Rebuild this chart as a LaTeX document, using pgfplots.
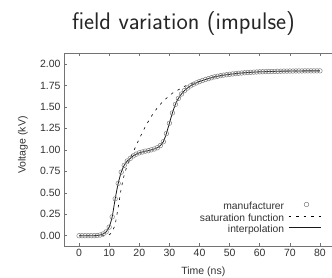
\documentclass[border=0pt]{standalone}
\usepackage{fontspec}
\setmainfont{Liberation Sans}
\usepackage{pgfplots}
\pgfplotsset{compat=1.18}
\usepackage{pgfplotstable}

\pgfplotsset{
  markimg/.style={legend image code/.code={\path (0pt,0pt) (32pt,0pt); \draw[##1] plot coordinates {(18pt,2.5pt)};}},
  dashimg/.style={legend image code/.code={\draw[##1] (0pt,2.5pt) -- (33pt,2.5pt);}},
  lineimg/.style={legend image code/.code={\draw[##1] (0pt,2.5pt) -- (32pt,2.5pt);}},
}

\pgfplotstableread{
t v
0 0
1 0
2 0
3 0
4 0
5 0
6 0.002
7 0.008
8 0.02
9 0.045
10 0.1
11 0.22
12 0.43
13 0.61
14 0.74
15 0.82
16 0.87
17 0.90
18 0.93
19 0.95
20 0.965
21 0.975
22 0.985
23 0.99
24 1.00
25 1.01
26 1.025
27 1.05
28 1.095
29 1.19
30 1.31
31 1.43
32 1.53
33 1.60
34 1.65
35 1.69
36 1.72
37 1.745
38 1.765
39 1.78
40 1.795
41 1.808
42 1.82
43 1.83
44 1.84
45 1.85
46 1.857
47 1.864
48 1.87
49 1.875
50 1.88
51 1.884
52 1.888
53 1.892
54 1.895
55 1.898
56 1.901
57 1.903
58 1.905
59 1.907
60 1.909
61 1.910
62 1.911
63 1.912
64 1.913
65 1.914
66 1.915
67 1.916
68 1.917
69 1.917
70 1.918
71 1.918
72 1.919
73 1.919
74 1.919
75 1.920
76 1.920
77 1.920
78 1.920
79 1.920
80 1.920
}\manuf

\pgfplotstableread{
t v
0 0
9 0
10 0.01
11 0.04
12 0.13
13 0.33
14 0.55
15 0.71
16 0.82
17 0.90
18 0.98
19 1.05
20 1.13
21 1.20
22 1.27
23 1.33
24 1.39
25 1.44
26 1.49
27 1.53
28 1.57
29 1.60
30 1.63
31 1.66
32 1.68
33 1.70
34 1.72
35 1.74
36 1.755
37 1.77
38 1.78
39 1.79
40 1.80
42 1.82
45 1.85
50 1.88
55 1.898
60 1.909
70 1.918
80 1.920
}\satur

\begin{document}
\begin{tikzpicture}[x=1pt,y=1pt]
\useasboundingbox (0,0) rectangle (332,277);
\node[font=\sffamily\fontsize{24}{28}\selectfont, anchor=base, text=black!85] at (183.5,248) {field variation (impulse)};
\begin{axis}[
  at={(64pt,31pt)}, anchor=south west,
  scale only axis, width=268pt, height=193pt,
  xmin=-5, xmax=84, ymin=-0.12, ymax=2.128,
  axis x line*=box, axis y line*=left,
  x axis line style={-}, y axis line style={-},
  axis line style={black!55, line width=0.6pt},
  tick style={black!55, line width=0.5pt},
  tick align=inside, major tick length=3pt,
  xtick={0,10,...,80},
  ytick={0,0.25,...,2.0},
  /pgf/number format/assume math mode=true,
  ticklabel style={font=\fontsize{10.5}{12}\selectfont, text=black!80},
  yticklabel style={/pgf/number format/.cd, fixed, fixed zerofill, precision=2},
  xlabel={Time (ns)}, ylabel={Voltage (kV)},
  label style={font=\fontsize{10.5}{12}\selectfont, text=black!80},
  xlabel style={at={(axis description cs:0.52,-0.150)}, anchor=base},
  ylabel style={at={(axis description cs:-0.153,0.523)}, anchor=center},
  legend cell align=right,
  legend plot pos=right,
  legend style={draw=none, fill=none, inner sep=0pt, at={(0.9627,0.233)}, anchor=north east,
    font=\fontsize{10.3}{11}\selectfont, text=black!80, column sep=3pt,
    nodes={inner sep=1pt, text height=7.5pt, text depth=2pt}},
]
\addplot[only marks, mark=o, mark size=2.3pt, color=black!50, mark options={line width=0.5pt}, markimg]
  table {\manuf};
\addlegendentry{manufacturer}
\addplot[black, line width=0.6pt, dash pattern=on 2.5pt off 5pt, dashimg]
  table {\satur};
\addlegendentry{saturation function}
\addplot[black!90, line width=0.8pt, smooth, tension=0.4, lineimg]
  table {\manuf};
\addlegendentry{interpolation}
\end{axis}
\end{tikzpicture}
\end{document}
